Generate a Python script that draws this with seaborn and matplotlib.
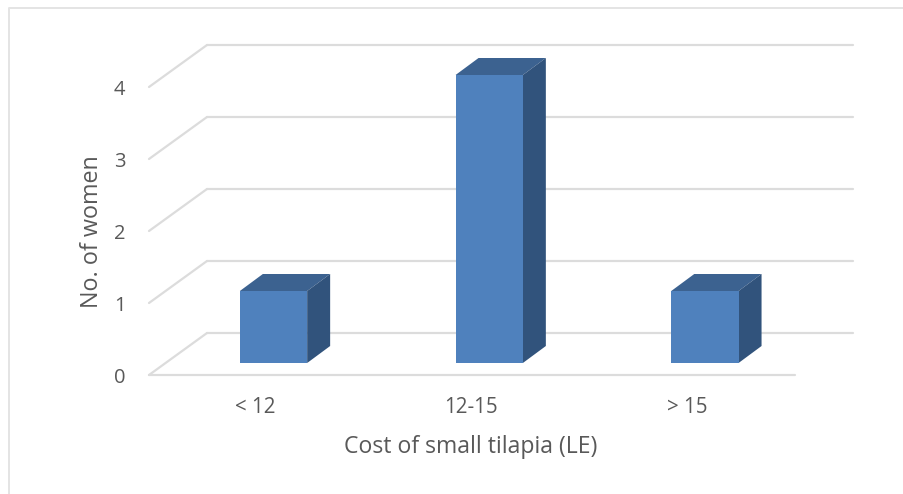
import matplotlib
matplotlib.use("Agg")
import matplotlib.pyplot as plt
from matplotlib.patches import Polygon
from matplotlib.transforms import ScaledTranslation
import pandas as pd
import seaborn as sns

categories = ["< 12", "12-15", "> 15"]
women = [1, 4, 1]
y_ticks = [0, 1, 2, 3, 4]
x_title = "Cost of small tilapia (LE)"
y_title = "No. of women"

W, H = 904, 494
DPI = 100
GRID = "#dcdcdc"
TEXT = "#595959"
FRONT = "#4f81bd"
TOP = "#3c6290"
SIDE = "#31537c"
BAR_W = 0.312

sns.set_theme(style="white")
plt.rcParams["font.family"] = ["Open Sans", "DejaVu Sans"]

fig = plt.figure(figsize=(W / DPI, H / DPI), dpi=DPI)
# front plane: category labels centred at 255.5 / 471 / 686.5, value 0 at pixel y 375
left, right = 149, 795
step = 215.7
ax = fig.add_axes([left / W, (H - 375) / H, (right - left) / W, 288 / H])
ax.patch.set_alpha(0)


def shifted(dx, dy):
    return ax.transData + ScaledTranslation(dx / DPI, dy / DPI, fig.dpi_scale_trans)


x0 = (left - 255.5) / step
x1 = (right - 255.5) / step

# back wall gridlines and the diagonals joining them to the front axis
for v in y_ticks:
    ax.plot([x0, x1], [v, v], transform=shifted(58, 42), color=GRID, lw=1.6,
            clip_on=False, zorder=1)
    ax.plot([x0, x0 + 58 / step], [v, v + 42 / 72], color=GRID, lw=1.6,
            clip_on=False, zorder=1)
ax.plot([x0, x1], [0, 0], color=GRID, lw=1.6, clip_on=False, zorder=1)

df = pd.DataFrame({"cost": categories, "women": women})
# bars sit mid-depth on the floor, so up and to the right of the front edge
bar_shift = shifted(18, 12)
sns.barplot(data=df, x="cost", y="women", order=categories, color=FRONT, saturation=1,
            width=BAR_W, ax=ax, zorder=4, linewidth=0, clip_on=False,
            **{"transform": bar_shift})

for i, v in enumerate(women):
    a, b = i - BAR_W / 2, i + BAR_W / 2
    dx, dy = 23 / step, 17 / 72
    ax.add_patch(Polygon([(a, v), (b, v), (b + dx, v + dy), (a + dx, v + dy)], closed=True,
                         facecolor=TOP, edgecolor="none", transform=bar_shift,
                         clip_on=False, zorder=3))
    ax.add_patch(Polygon([(b, 0), (b, v), (b + dx, v + dy), (b + dx, dy)], closed=True,
                         facecolor=SIDE, edgecolor="none", transform=bar_shift,
                         clip_on=False, zorder=3))

ax.set_xlim(x0, x1)
ax.set_ylim(0, 4)
ax.set_yticks(y_ticks)
ax.set_xticks(range(len(categories)))
ax.set_xticklabels(categories)
ax.tick_params(axis="x", length=0, pad=16, labelsize=14.8, labelcolor=TEXT)
ax.tick_params(axis="y", length=0, pad=17, labelsize=14.5, labelcolor=TEXT)
ax.set_xlabel("")
ax.set_ylabel("")
sns.despine(ax=ax, left=True, bottom=True)

fig.text(471 / W, 1 - 447 / H, x_title, ha="center", va="center", fontsize=16.6, color=TEXT)
fig.text(92 / W, 1 - 232 / H, y_title, ha="center", va="center", rotation=90,
         fontsize=16.8, color=TEXT)

# outer chart frame, only left and top are inside the crop
fig.add_artist(plt.Line2D([8.5 / W, 8.5 / W, 1], [0, 1 - 8.5 / H, 1 - 8.5 / H],
                          color="#e4e4e4", lw=1.4))

fig.savefig("out.png", dpi=DPI)
